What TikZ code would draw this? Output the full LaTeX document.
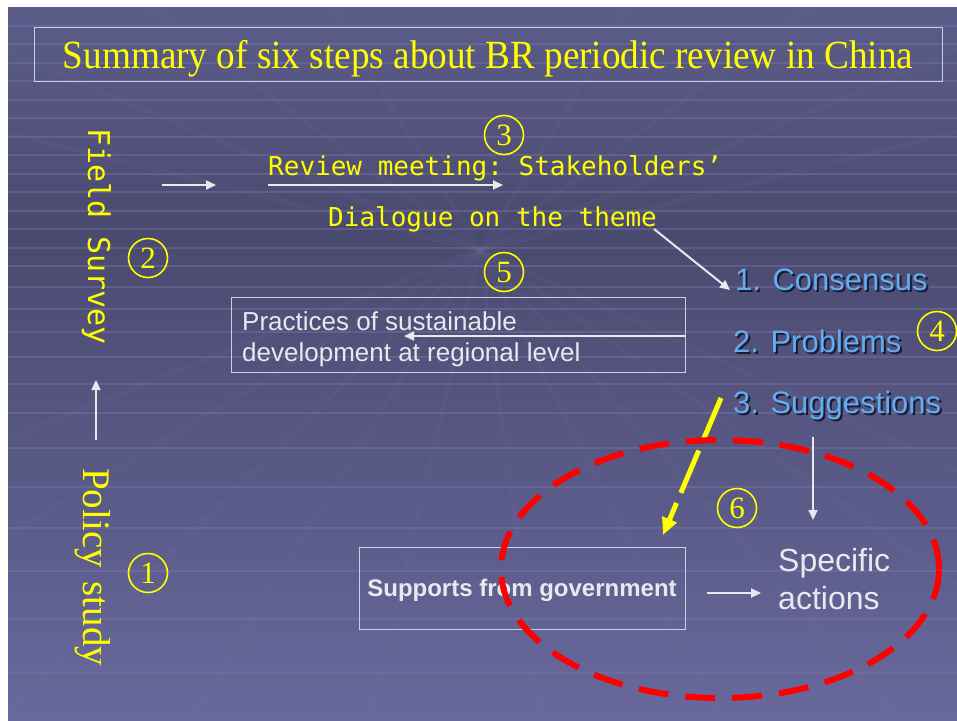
\documentclass[tikz,border=0pt]{standalone}
\usepackage{fontspec}
\setmainfont{Liberation Serif}
\setsansfont{Liberation Sans}
\setmonofont{DejaVu Sans Mono}
\usetikzlibrary{arrows.meta}

\definecolor{slidetop}{RGB}{92,92,138}
\definecolor{slidemid}{RGB}{74,74,112}
\definecolor{slidebot}{RGB}{104,104,156}
\definecolor{gridline}{RGB}{128,128,172}
\definecolor{stepyellow}{RGB}{255,255,0}
\definecolor{listblue}{RGB}{98,172,242}
\definecolor{listshadow}{RGB}{28,28,48}
\definecolor{boxedge}{RGB}{196,210,232}
\definecolor{paletext}{RGB}{232,232,238}

% list text with a dark drop shadow behind it
\newcommand{\droptext}[1]{\makebox[0pt][l]{\hspace{2pt}\raisebox{-2pt}{\color{listshadow}#1}}#1}

\tikzset{
  grid stroke/.style={draw=gridline, line width=1.4pt, opacity=0.35},
  ray stroke/.style={draw=gridline, line width=5pt, opacity=0.07},
  titlebox/.style={draw=boxedge, line width=0.8pt, minimum width=908pt, minimum height=54pt, inner sep=0pt},
  titletext/.style={text=stepyellow, font=\fontsize{40}{48}\selectfont, inner sep=0pt, anchor=base},
  vertmono/.style={text=stepyellow, font=\ttfamily\fontsize{30}{36}\selectfont, inner sep=0pt, rotate=-90, anchor=base west},
  vertserif/.style={text=stepyellow, font=\fontsize{39}{44}\selectfont, inner sep=0pt, rotate=-90, anchor=base west},
  monoline/.style={text=stepyellow, font=\ttfamily\fontsize{26}{30}\selectfont, inner sep=0pt, anchor=base west},
  stepnum/.style={circle, draw=stepyellow, line width=1.6pt, minimum size=39pt, inner sep=0pt, text=stepyellow, font=\fontsize{31}{31}\selectfont},
  framebox/.style={draw=boxedge, line width=0.9pt, inner sep=0pt},
  plaintext/.style={text=paletext, font=\sffamily\fontsize{26}{31}\selectfont, inner sep=0pt, align=left},
  listitem/.style={text=listblue, font=\sffamily\fontsize{31}{36}\selectfont, inner sep=0pt, anchor=base west},
  flow/.style={draw=paletext, line width=2pt, -{Triangle[length=10pt,width=9pt]}},
  yellowflow/.style={draw=stepyellow, line width=5pt, dash pattern=on 46pt off 11pt, -{Triangle[length=17pt,width=15pt]}},
  focusring/.style={draw=red, line width=6pt, dash pattern=on 30pt off 17pt}
}

\begin{document}
\begin{tikzpicture}[x=1pt,y=-1pt]
\useasboundingbox (0,0) rectangle (957,720);
\fill[white] (0,0) rectangle (957,720);

% slide background
\shade[top color=slidetop, bottom color=slidemid] (8,7) rectangle (957,231);
\shade[top color=slidemid, bottom color=slidebot] (8,230) rectangle (957,720);
\begin{scope}
  \clip (8,7) rectangle (957,720);
  \foreach \yy in {26,44,63,81,100,118,137,155,174,192,211,229,248,266,287,309,332,357,384,413,448,487,528,571,619,673}
    \draw[grid stroke] (8,\yy) -- (957,\yy);
  \foreach \xx in {-700,-300,0,190,370,540,720,900,1150,1500}
    \draw[ray stroke] (480,250) -- (\xx,720);
  \foreach \xx in {-500,-100,150,330,630,810,1060,1460}
    \draw[ray stroke] (480,250) -- (\xx,7);
\end{scope}

% title
\node[titlebox] (titleBox) at (488,54) {};
\node[titletext] (title) at (488,68) {\scalebox{0.93}[1]{Summary of six steps about BR periodic review in China}};

% the six steps
\node[vertserif] (policy) at (83,468) {Policy\hspace{4pt} study};
\node[vertmono] (field) at (88,128) {Field Survey};
\node[monoline] (review) at (268,175) {Review meeting: Stakeholders’};
\node[monoline] (dialogue) at (328,226) {Dialogue on the theme};

\node[stepnum] (one) at (148,573) {1};
\node[stepnum] (two) at (148,258) {2};
\node[stepnum] (three) at (504,135) {3};
\node[stepnum] (four) at (937,331) {4};
\node[stepnum] (five) at (504,272) {5};
\node[stepnum] (six) at (737,508) {6};

% outcome list
\node[listitem] (consensus) at (735,290) {\droptext{1. Consensus}};
\node[listitem] (problems) at (733,352) {\droptext{2. Problems}};
\node[listitem] (suggestions) at (733,413) {\droptext{3. Suggestions}};

% boxes and follow-up texts
\node[framebox, minimum width=454pt, minimum height=75pt] (practiceBox) at (458,334.5) {};
\node[plaintext, anchor=north west] (practiceText) at (242,311) {Practices of sustainable\\development at regional level};

\node[framebox, minimum width=326pt, minimum height=82pt, text=paletext, font=\sffamily\bfseries\fontsize{24}{28}\selectfont, text depth=0pt] (supports) at (522,588) {Supports from government};
\node[plaintext, font=\sffamily\fontsize{32}{38}\selectfont, anchor=north west] (actions) at (778,548) {Specific\\actions};

% connector end points
\coordinate (policyUp) at (96,440);
\coordinate (policyTop) at (96,380);
\coordinate (fieldOut) at (162,185);
\coordinate (fieldIn) at (216,185);
\coordinate (reviewStart) at (268,185);
\coordinate (reviewEnd) at (503,185);
\coordinate (themeEnd) at (654,229);
\coordinate (consensusIn) at (730,290);
\coordinate (practiceTip) at (404,336);
\coordinate (suggestOut) at (813,437);
\coordinate (actionsIn) at (813,520);
\coordinate (supportOut) at (707,593);
\coordinate (actionsLeft) at (761,593);
\coordinate (yellowStart) at (721,398);
\coordinate (yellowEnd) at (663,535);

% connectors
\draw[flow] (policyUp) -- (policyTop);
\draw[flow] (fieldOut) -- (fieldIn);
\draw[flow] (reviewStart) -- (reviewEnd);
\draw[flow] (themeEnd) -- (consensusIn);
\draw[flow] (practiceBox.east |- practiceTip) -- (practiceTip);
\draw[flow] (suggestOut) -- (actionsIn);
\draw[flow] (supportOut) -- (actionsLeft);
\draw[yellowflow] (yellowStart) -- (yellowEnd);

% highlighted step six
\draw[focusring] (720,569) ellipse [x radius=219pt, y radius=129pt];
\end{tikzpicture}
\end{document}
